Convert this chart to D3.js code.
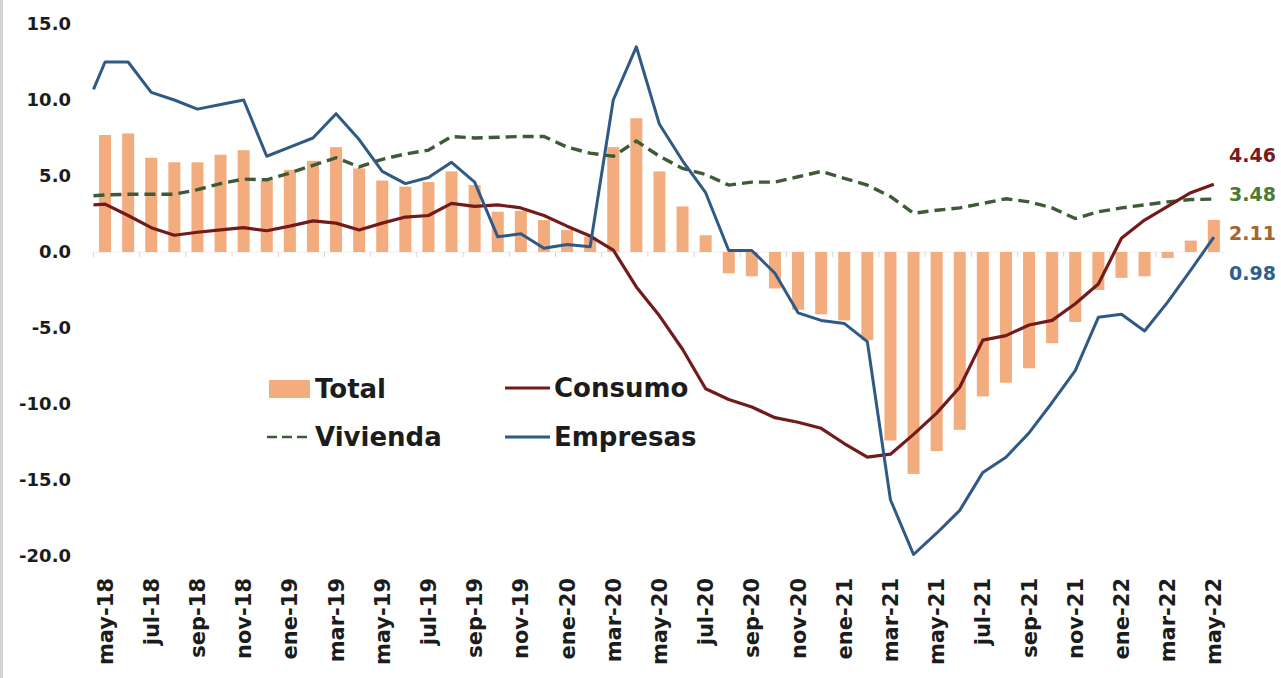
<!DOCTYPE html>
<html>
<head>
<meta charset="utf-8">
<script src="https://cdn.jsdelivr.net/npm/d3@7"></script>
<style>
  html, body { margin: 0; padding: 0; background: #ffffff; }
  svg { display: block; }
</style>
</head>
<body>
<svg id="chart" width="1281" height="678"></svg>
<script>
// ---------------- DATA ----------------
const months = [
  "may-18","jun-18","jul-18","ago-18","sep-18","oct-18","nov-18","dic-18",
  "ene-19","feb-19","mar-19","abr-19","may-19","jun-19","jul-19","ago-19","sep-19","oct-19","nov-19","dic-19",
  "ene-20","feb-20","mar-20","abr-20","may-20","jun-20","jul-20","ago-20","sep-20","oct-20","nov-20","dic-20",
  "ene-21","feb-21","mar-21","abr-21","may-21","jun-21","jul-21","ago-21","sep-21","oct-21","nov-21","dic-21",
  "ene-22","feb-22","mar-22","abr-22","may-22"
];
// tick labels shown on the x axis (every second month)
const tickLabels = months.filter((d, i) => i % 2 === 0);
const yTicks = [15, 10, 5, 0, -5, -10, -15, -20];

// Total (bars), one value per month
const total = [7.7, 7.8, 6.2, 5.9, 5.9, 6.4, 6.7, 4.7, 5.4, 6.0,
  6.9, 5.5, 4.7, 4.3, 4.6, 5.3, 4.4, 2.65, 2.7, 2.1,
  1.45, 1.0, 6.9, 8.8, 5.3, 3.0, 1.1, -1.4, -1.6, -2.4,
  -3.8, -4.1, -4.5, -5.8, -12.4, -14.6, -13.1, -11.7, -9.5, -8.6,
  -7.65, -6.0, -4.6, -2.5, -1.7, -1.6, -0.4, 0.75, 2.11];

// Line series: first value sits on the left edge of the plot, then one per month
const vivienda = [3.7, 3.75, 3.8, 3.8, 3.8, 4.1, 4.5, 4.8, 4.75, 5.2, 5.7,
  6.2, 5.6, 6.1, 6.45, 6.7, 7.6, 7.5, 7.55, 7.6, 7.6,
  6.9, 6.5, 6.3, 7.3, 6.3, 5.5, 5.1, 4.4, 4.6, 4.6,
  4.95, 5.3, 4.85, 4.4, 3.65, 2.55, 2.75, 2.9, 3.2, 3.5,
  3.3, 2.9, 2.2, 2.65, 2.9, 3.1, 3.3, 3.45, 3.48];
const consumo = [3.1, 3.15, 2.4, 1.6, 1.1, 1.3, 1.45, 1.6, 1.4, 1.7, 2.05,
  1.9, 1.45, 1.9, 2.3, 2.4, 3.2, 3.0, 3.1, 2.9, 2.4,
  1.7, 1.05, 0.13, -2.3, -4.2, -6.4, -9.0, -9.7, -10.2, -10.9,
  -11.2, -11.6, -12.6, -13.5, -13.3, -12.0, -10.6, -8.9, -5.8, -5.5,
  -4.8, -4.5, -3.4, -2.1, 0.9, 2.1, 3.0, 3.9, 4.46];
const empresas = [10.7, 12.5, 12.5, 10.5, 10.0, 9.4, 9.7, 10.0, 6.3, 6.9, 7.5,
  9.1, 7.4, 5.3, 4.5, 4.9, 5.9, 4.6, 1.0, 1.2, 0.25,
  0.5, 0.35, 10.0, 13.5, 8.4, 6.0, 3.9, 0.1, 0.1, -1.4,
  -4.0, -4.5, -4.7, -5.9, -16.3, -19.9, -18.5, -17.0, -14.5, -13.5,
  -11.9, -9.9, -7.8, -4.3, -4.1, -5.2, -3.3, -1.2, 0.98];

const seriesNames = ["Total", "Vivienda", "Consumo", "Empresas"];
const endLabels = ["4.46", "3.48", "2.11", "0.98"];

// ---------------- STYLE ----------------
const C = {
  bar: "#F3AC7D",
  viv: "#3f5a36",
  con: "#731a1a",
  emp: "#2f5a85",
  text: "#1c1c1c",
  lblCon: "#7a1b1b",
  lblViv: "#4c7a34",
  lblTot: "#a3652c",
  lblEmp: "#2f5f8f"
};
const FONT = "'DejaVu Sans', Verdana, sans-serif";

const svg = d3.select("#chart");
const plotL = 93.5, plotR = 1225.4, plotT = 24, plotB = 556;

const x = d3.scaleBand().domain(months).range([plotL, plotR])
  .paddingInner(0.48).paddingOuter(0.24);
const y = d3.scaleLinear().domain([-20, 15]).range([plotB, plotT]);
const bw = x.bandwidth();
const cx = m => x(m) + bw / 2;
// x for line points: index 0 = left edge of plot, then month centers
const lineX = j => j === 0 ? x.range()[0] : cx(months[j - 1]);

// left edge strip of the original image
svg.append("rect").attr("x", 0).attr("y", 0).attr("width", 3).attr("height", 678)
  .attr("fill", "#d4d4d4");

// zero line + small ticks
svg.append("line").attr("x1", plotL).attr("x2", plotR)
  .attr("y1", y(0)).attr("y2", y(0)).attr("stroke", "#ececec").attr("stroke-width", 1);
svg.append("g").selectAll("line")
  .data(d3.range(0, months.length + 1, 2))
  .join("line")
  .attr("x1", i => plotL + i * x.step()).attr("x2", i => plotL + i * x.step())
  .attr("y1", y(0)).attr("y2", y(0) + 5)
  .attr("stroke", "#d8d8d8").attr("stroke-width", 1);

// bars
svg.append("g").selectAll("rect")
  .data(total)
  .join("rect")
  .attr("x", (d, i) => x(months[i]))
  .attr("width", bw)
  .attr("y", d => y(Math.max(0, d)))
  .attr("height", d => Math.abs(y(d) - y(0)))
  .attr("fill", C.bar);

// lines
const line = d3.line().x((d, j) => lineX(j)).y(d => y(d)).curve(d3.curveLinear);
svg.append("path").datum(vivienda).attr("d", line)
  .attr("fill", "none").attr("stroke", C.viv).attr("stroke-width", 3.4)
  .attr("stroke-dasharray", "11,6");
svg.append("path").datum(consumo).attr("d", line)
  .attr("fill", "none").attr("stroke", C.con).attr("stroke-width", 3.2)
  .attr("stroke-linejoin", "round");
svg.append("path").datum(empresas).attr("d", line)
  .attr("fill", "none").attr("stroke", C.emp).attr("stroke-width", 3)
  .attr("stroke-linejoin", "round");

// y axis
const yAxis = svg.append("g").attr("transform", "translate(80,0)")
  .call(d3.axisLeft(y).tickValues(yTicks).tickFormat(d => d.toFixed(1)).tickSize(0).tickPadding(9));
yAxis.select(".domain").remove();
yAxis.selectAll("text").attr("font-family", FONT).attr("font-size", 18)
  .attr("font-weight", "bold").attr("fill", C.text);

// x axis labels
const xAxis = svg.append("g").attr("transform", "translate(0,578)")
  .call(d3.axisBottom(x).tickValues(tickLabels).tickSize(0).tickPadding(0));
xAxis.select(".domain").remove();
xAxis.selectAll("text")
  .attr("transform", "rotate(-90)")
  .attr("x", 0).attr("y", 0).attr("dy", "0.36em")
  .attr("text-anchor", "end")
  .attr("font-family", FONT).attr("font-size", 21)
  .attr("font-weight", "bold").attr("fill", C.text);

// end labels (stacked to the right of the last month)
const lblColors = [C.lblCon, C.lblViv, C.lblTot, C.lblEmp];
svg.append("g").selectAll("text")
  .data(endLabels)
  .join("text")
  .attr("x", 1229)
  .attr("y", (d, i) => 155 + i * 39.3)
  .attr("dy", "0.36em")
  .attr("font-family", FONT).attr("font-size", 19).attr("font-weight", "bold")
  .attr("fill", (d, i) => lblColors[i])
  .text(d => d);

// legend
const lg = svg.append("g").attr("font-family", FONT).attr("font-size", 26)
  .attr("font-weight", "bold").attr("fill", C.text);
lg.append("rect").attr("x", 269).attr("y", 380).attr("width", 41).attr("height", 18).attr("fill", C.bar);
lg.append("text").attr("x", 315).attr("y", 389).attr("dy", "0.36em").text(seriesNames[0]);
lg.append("line").attr("x1", 267).attr("x2", 310).attr("y1", 437).attr("y2", 437)
  .attr("stroke", C.viv).attr("stroke-width", 2.6).attr("stroke-dasharray", "10,5");
lg.append("text").attr("x", 315).attr("y", 437).attr("dy", "0.36em").text(seriesNames[1]);
lg.append("line").attr("x1", 505).attr("x2", 550).attr("y1", 388).attr("y2", 388)
  .attr("stroke", C.con).attr("stroke-width", 3);
lg.append("text").attr("x", 554).attr("y", 388).attr("dy", "0.36em").text(seriesNames[2]);
lg.append("line").attr("x1", 505).attr("x2", 550).attr("y1", 437).attr("y2", 437)
  .attr("stroke", C.emp).attr("stroke-width", 3);
lg.append("text").attr("x", 554).attr("y", 437).attr("dy", "0.36em").text(seriesNames[3]);
</script>
</body>
</html>
